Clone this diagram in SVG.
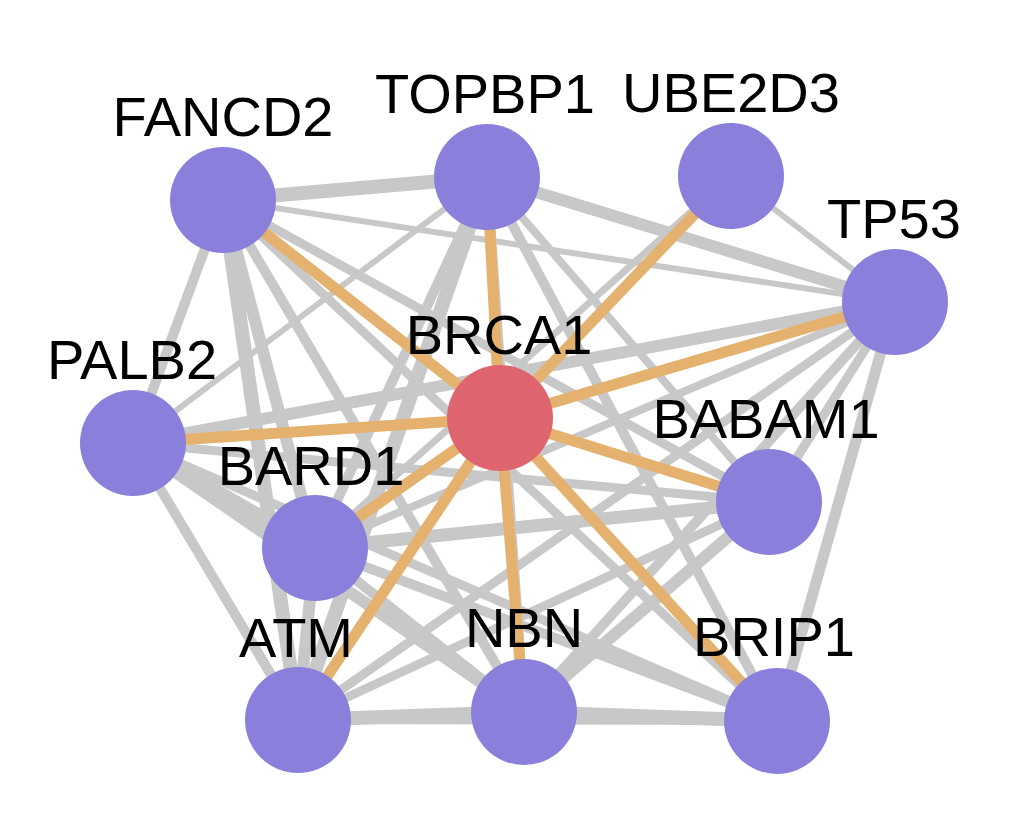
<svg xmlns="http://www.w3.org/2000/svg" width="1030" height="838" viewBox="0 0 1030 838">
<style>
.g{stroke:#c8c8c8;fill:none}
.o{stroke:#e4b26e;fill:none;stroke-width:11}
.n{fill:#8a80dc}
.r{fill:#de6570}
text{font-family:"Liberation Sans",Arial,sans-serif;font-size:56px;fill:#000;text-anchor:middle}
</style>
<rect width="1030" height="838" fill="#fff"/>
<g id="connectors">
<line class="g" x1="223" y1="200" x2="487" y2="177" stroke-width="14"/>
<line class="g" x1="223" y1="200" x2="895" y2="302" stroke-width="6"/>
<line class="g" x1="223" y1="200" x2="133" y2="443" stroke-width="10"/>
<line class="g" x1="223" y1="200" x2="315" y2="548" stroke-width="12"/>
<line class="g" x1="223" y1="200" x2="298" y2="720" stroke-width="14"/>
<line class="g" x1="223" y1="200" x2="524" y2="712" stroke-width="10"/>
<line class="g" x1="223" y1="200" x2="777" y2="721" stroke-width="9"/>
<line class="g" x1="223" y1="200" x2="769" y2="502" stroke-width="9"/>
<line class="g" x1="487" y1="177" x2="895" y2="302" stroke-width="12"/>
<line class="g" x1="487" y1="177" x2="133" y2="443" stroke-width="6"/>
<line class="g" x1="487" y1="177" x2="315" y2="548" stroke-width="10"/>
<line class="g" x1="487" y1="177" x2="298" y2="720" stroke-width="14"/>
<line class="g" x1="487" y1="177" x2="524" y2="712" stroke-width="10"/>
<line class="g" x1="487" y1="177" x2="777" y2="721" stroke-width="10"/>
<line class="g" x1="487" y1="177" x2="769" y2="502" stroke-width="8"/>
<line class="g" x1="731" y1="176" x2="895" y2="302" stroke-width="6"/>
<line class="g" x1="731" y1="176" x2="315" y2="548" stroke-width="7"/>
<line class="g" x1="895" y1="302" x2="133" y2="443" stroke-width="12"/>
<line class="g" x1="895" y1="302" x2="315" y2="548" stroke-width="8"/>
<line class="g" x1="895" y1="302" x2="298" y2="720" stroke-width="9"/>
<line class="g" x1="895" y1="302" x2="524" y2="712" stroke-width="10"/>
<line class="g" x1="895" y1="302" x2="769" y2="502" stroke-width="9"/>
<line class="g" x1="895" y1="302" x2="777" y2="721" stroke-width="11"/>
<line class="g" x1="133" y1="443" x2="769" y2="502" stroke-width="9"/>
<line class="g" x1="133" y1="443" x2="315" y2="548" stroke-width="14"/>
<line class="g" x1="133" y1="443" x2="524" y2="712" stroke-width="12"/>
<line class="g" x1="133" y1="443" x2="298" y2="720" stroke-width="10"/>
<line class="g" x1="133" y1="443" x2="777" y2="721" stroke-width="9"/>
<line class="g" x1="315" y1="548" x2="769" y2="502" stroke-width="13"/>
<line class="g" x1="315" y1="548" x2="524" y2="712" stroke-width="10"/>
<line class="g" x1="315" y1="548" x2="777" y2="721" stroke-width="10"/>
<line class="g" x1="315" y1="548" x2="298" y2="720" stroke-width="12"/>
<line class="g" x1="298" y1="720" x2="524" y2="712" stroke-width="14"/>
<line class="g" x1="298" y1="720" x2="769" y2="502" stroke-width="9"/>
<line class="g" x1="298" y1="720" x2="777" y2="721" stroke-width="8"/>
<line class="g" x1="524" y1="712" x2="777" y2="721" stroke-width="14"/>
<line class="g" x1="524" y1="712" x2="769" y2="502" stroke-width="12"/>
<line class="o" x1="500" y1="418" x2="223" y2="200"/>
<line class="o" x1="500" y1="418" x2="487" y2="177"/>
<line class="o" x1="500" y1="418" x2="731" y2="176"/>
<line class="o" x1="500" y1="418" x2="895" y2="302"/>
<line class="o" x1="500" y1="418" x2="133" y2="443" stroke-width="12"/>
<line class="o" x1="500" y1="418" x2="769" y2="502"/>
<line class="o" x1="500" y1="418" x2="315" y2="548"/>
<line class="o" x1="500" y1="418" x2="298" y2="720" stroke-width="10"/>
<line class="o" x1="500" y1="418" x2="524" y2="712"/>
<line class="o" x1="500" y1="418" x2="777" y2="721"/>
</g>
<g id="FANCD2"><circle class="n" cx="223" cy="200" r="53"/><text x="223" y="136">FANCD2</text></g>
<g id="TOPBP1"><circle class="n" cx="487" cy="177" r="53"/><text x="485" y="113">TOPBP1</text></g>
<g id="UBE2D3"><circle class="n" cx="731" cy="176" r="53"/><text x="731" y="112">UBE2D3</text></g>
<g id="TP53"><circle class="n" cx="895" cy="302" r="53"/><text x="894" y="238">TP53</text></g>
<g id="PALB2"><circle class="n" cx="133" cy="443" r="53"/><text x="132" y="379">PALB2</text></g>
<g id="BRCA1"><circle class="r" cx="500" cy="418" r="53"/><text x="499" y="354">BRCA1</text></g>
<g id="BABAM1"><circle class="n" cx="769" cy="502" r="53"/><text x="766" y="438">BABAM1</text></g>
<g id="BARD1"><circle class="n" cx="315" cy="548" r="53"/><text x="311" y="485">BARD1</text></g>
<g id="ATM"><circle class="n" cx="298" cy="720" r="53"/><text x="296" y="657">ATM</text></g>
<g id="NBN"><circle class="n" cx="524" cy="712" r="53"/><text x="524" y="647">NBN</text></g>
<g id="BRIP1"><circle class="n" cx="777" cy="721" r="53"/><text x="774" y="656">BRIP1</text></g>
</svg>
